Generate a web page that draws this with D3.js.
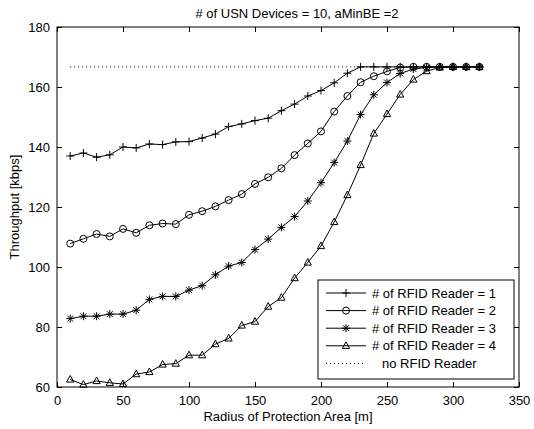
<!DOCTYPE html>
<html>
<head>
<meta charset="utf-8">
<script src="https://cdn.jsdelivr.net/npm/d3@7"></script>
<style>
	body { margin: 0; background: #fff; }
	text { font-family: "Liberation Sans", Arial, Helvetica, sans-serif; fill: #000; }
</style>
</head>
<body>
<script>

	var radius = [10, 20, 30, 40, 50, 60, 70, 80, 90, 100, 110, 120, 130, 140, 150, 160,
		170, 180, 190, 200, 210, 220, 230, 240, 250, 260, 270, 280, 290, 300, 310, 320];

	var reader1 = [137, 138, 136.6, 137.4, 140, 139.7, 141, 140.8, 141.7, 141.8, 143, 144.3, 146.8, 147.7, 148.8, 149.6,
		152.1, 154.3, 157, 158.8, 161.4, 164.6, 166.7, 166.7, 166.7, 166.7, 166.7, 166.7, 166.7, 166.7, 166.7, 166.7];
	var reader2 = [107.8, 109.4, 111, 110.2, 112.7, 111.4, 113.9, 114.5, 114.3, 117.4, 118.6, 120.2, 122.3, 124.3, 127.7, 129.9,
		132.9, 137.3, 141.2, 145.2, 151.8, 157, 161.6, 163.6, 165.2, 166.5, 166.7, 166.7, 166.7, 166.7, 166.7, 166.7];
	var reader3 = [82.8, 83.6, 83.6, 84.3, 84.3, 85.6, 89.2, 90.2, 90.2, 92.3, 93.8, 97.4, 100.3, 101.5, 105.8, 109.3,
		113.2, 116.8, 122, 128.1, 134.8, 142, 150.8, 157.4, 161.5, 164.5, 166, 166.5, 166.7, 166.7, 166.7, 166.7];
	var reader4 = [62.5, 60.8, 62, 61.4, 61, 64.3, 65, 67.5, 67.8, 70.6, 70.6, 74.3, 76.2, 80.5, 81.8, 86.8,
		89.8, 96.3, 101.5, 107, 115, 124, 134, 144.5, 151, 157.5, 162.5, 165.3, 166.5, 166.7, 166.7, 166.7];
	var noReader = [166.7, 166.7, 166.7, 166.7, 166.7, 166.7, 166.7, 166.7, 166.7, 166.7, 166.7, 166.7, 166.7, 166.7, 166.7, 166.7,
		166.7, 166.7, 166.7, 166.7, 166.7, 166.7, 166.7, 166.7, 166.7, 166.7, 166.7, 166.7, 166.7, 166.7, 166.7, 166.7];

	var xTicks = [0, 50, 100, 150, 200, 250, 300, 350];
	var yTicks = [60, 80, 100, 120, 140, 160, 180];

	var legendLabels = ['# of RFID Reader = 1', '# of RFID Reader = 2', '# of RFID Reader = 3',
		'# of RFID Reader = 4', 'no RFID Reader'];

	(function() {

		var width = 534;
		var height = 429;
		var plotLeft = 57, plotRight = 519, plotTop = 27, plotBottom = 387;
		var tickLen = 5;

		var x = d3.scaleLinear().domain([0, 350]).range([plotLeft, plotRight]);
		var y = d3.scaleLinear().domain([60, 180]).range([plotBottom, plotTop]);

		var svg = d3.select('body')
			.append('svg')
				.attr('width', width)
				.attr('height', height);

		svg.append('rect')
			.attr('width', width)
			.attr('height', height)
			.attr('fill', '#fff');

		// marker shapes, MATLAB style (unfilled, stroked)
		var markers = {
			plus: 'M-4,0H4M0,-4V4',
			circle: 'M3.5,0A3.5,3.5 0 1,1 -3.5,0A3.5,3.5 0 1,1 3.5,0Z',
			star: 'M-4,0H4M0,-4V4M-2.9,-2.9L2.9,2.9M-2.9,2.9L2.9,-2.9',
			triangle: 'M0,-4L3.6,2.6L-3.6,2.6Z'
		};

		var series = [
			{ values: reader1, marker: 'plus' },
			{ values: reader2, marker: 'circle' },
			{ values: reader3, marker: 'star' },
			{ values: reader4, marker: 'triangle' }
		];

		// axes box with inward ticks on all sides
		var frame = svg.append('g');

		frame.append('g')
			.attr('transform', 'translate(0,' + plotBottom + ')')
			.call(d3.axisBottom(x).tickValues(xTicks).tickSize(-tickLen).tickPadding(9))
			.call(g => g.select('.domain').remove());
		frame.append('g')
			.attr('transform', 'translate(0,' + plotTop + ')')
			.call(d3.axisTop(x).tickValues(xTicks).tickSize(-tickLen).tickFormat(''))
			.call(g => g.select('.domain').remove());
		frame.append('g')
			.attr('transform', 'translate(' + plotLeft + ',0)')
			.call(d3.axisLeft(y).tickValues(yTicks).tickSize(-tickLen).tickPadding(7))
			.call(g => g.select('.domain').remove());
		frame.append('g')
			.attr('transform', 'translate(' + plotRight + ',0)')
			.call(d3.axisRight(y).tickValues(yTicks).tickSize(-tickLen).tickFormat(''))
			.call(g => g.select('.domain').remove());

		frame.selectAll('.tick line').attr('stroke', '#000');
		frame.selectAll('.tick text')
			.attr('font-size', 13)
			.attr('font-family', '"Liberation Sans", Arial, sans-serif');

		frame.append('rect')
			.attr('x', plotLeft)
			.attr('y', plotTop)
			.attr('width', plotRight - plotLeft)
			.attr('height', plotBottom - plotTop)
			.attr('fill', 'none')
			.attr('stroke', '#000')
			.attr('stroke-width', 1);

		var line = d3.line()
			.x((d, i) => x(radius[i]))
			.y(d => y(d));

		var plot = svg.append('g');

		plot.append('path')
			.attr('d', line(noReader))
			.attr('fill', 'none')
			.attr('stroke', '#000')
			.attr('stroke-width', 1)
			.attr('stroke-dasharray', '1,3');

		series.forEach(s => {
			plot.append('path')
				.attr('d', line(s.values))
				.attr('fill', 'none')
				.attr('stroke', '#000')
				.attr('stroke-width', 1);

			plot.selectAll(null)
				.data(s.values)
				.enter()
				.append('path')
					.attr('transform', (d, i) => 'translate(' + x(radius[i]) + ',' + y(d) + ')')
					.attr('d', markers[s.marker])
					.attr('fill', 'none')
					.attr('stroke', '#000')
					.attr('stroke-width', 1);
		});

		// legend
		var legend = svg.append('g');
		var lx = 318, ly = 280, lw = 196, lh = 99, rowGap = 17.6;

		legend.append('rect')
			.attr('x', lx)
			.attr('y', ly)
			.attr('width', lw)
			.attr('height', lh)
			.attr('fill', '#fff')
			.attr('stroke', '#000');

		legendLabels.forEach((label, i) => {
			var ry = ly + 13 + i * rowGap;
			var isDotted = i === 4;

			legend.append('line')
				.attr('x1', lx + 8)
				.attr('x2', lx + 48)
				.attr('y1', ry)
				.attr('y2', ry)
				.attr('stroke', '#000')
				.attr('stroke-dasharray', isDotted ? '1,3' : null);

			if (!isDotted) {
				legend.append('path')
					.attr('transform', 'translate(' + (lx + 28) + ',' + ry + ')')
					.attr('d', markers[series[i].marker])
					.attr('fill', 'none')
					.attr('stroke', '#000');
			}

			legend.append('text')
				.attr('x', isDotted ? lx + 64 : lx + 54)
				.attr('y', ry + 4.5)
				.attr('font-size', 13)
				.text(label);
		});

		// titles
		svg.append('text')
			.attr('x', 297)
			.attr('y', 18)
			.attr('text-anchor', 'middle')
			.attr('font-size', 13)
			.text('# of USN Devices = 10, aMinBE =2');

		svg.append('text')
			.attr('x', (plotLeft + plotRight) / 2)
			.attr('y', 421)
			.attr('text-anchor', 'middle')
			.attr('font-size', 13)
			.text('Radius of Protection Area [m]');

		svg.append('text')
			.attr('transform', 'translate(19,' + ((plotTop + plotBottom) / 2) + ') rotate(-90)')
			.attr('text-anchor', 'middle')
			.attr('font-size', 13)
			.text('Throughput [kbps]');

	})();

</script>
</body>
</html>
